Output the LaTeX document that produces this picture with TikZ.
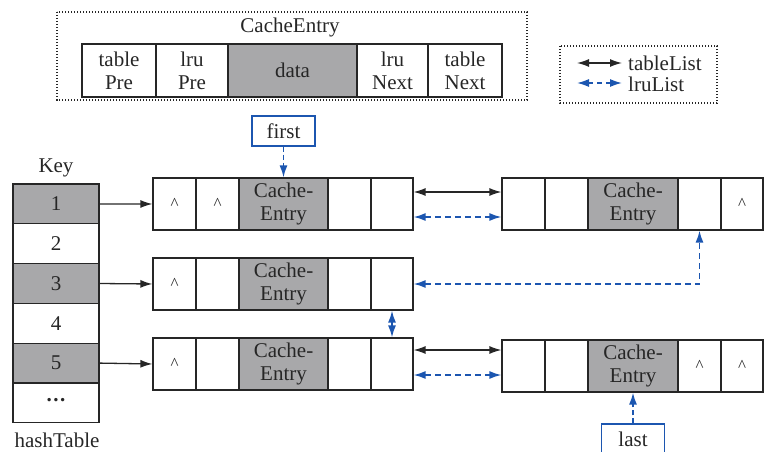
\documentclass[tikz,border=0pt]{standalone}
\usepackage{fontspec}
\setmainfont{Liberation Serif}
\usetikzlibrary{arrows.meta}
\definecolor{cellgray}{RGB}{168,168,170}
\definecolor{lnk}{RGB}{28,86,176}
\definecolor{ink}{RGB}{38,38,38}
\newcommand\nilmark{\raisebox{-0.9ex}{\fontsize{17}{17}\selectfont\textasciicircum}}
\begin{document}
\begin{tikzpicture}[x=1pt,y=-1pt,
  every node/.style={font=\fontsize{21}{23}\selectfont, text=ink},
  cell/.style={draw=ink, line width=1.2pt, minimum height=52pt, inner sep=0pt, align=center},
  gcell/.style={cell, fill=cellgray},
  wa/.style={minimum width=43pt},
  wb/.style={minimum width=89pt},
  wc/.style={minimum width=42pt},
  hcell/.style={draw=ink, line width=1.2pt, minimum width=86pt, minimum height=39.8pt, inner sep=0pt},
  tcell/.style={draw=ink, line width=1.2pt, minimum height=53pt, inner sep=0pt, align=center},
  dotbox/.style={draw=ink, line width=1.1pt, dash pattern=on 1.3pt off 1.7pt},
  ptr/.style={draw=lnk, line width=1.4pt, minimum width=63pt, minimum height=30pt, inner sep=0pt},
  tip/.tip={Latex[length=12pt,width=8pt]},
  tlink/.style={draw=ink, line width=1.3pt, tip-tip},
  llink/.style={draw=lnk, line width=1.6pt, dash pattern=on 6pt off 4pt, tip-tip},
  hlink/.style={draw=ink, line width=1.3pt, -tip},
  plink/.style={draw=lnk, line width=1.6pt, dash pattern=on 5pt off 3pt, -tip}
]
\useasboundingbox (0,0) rectangle (768,452);

% CacheEntry structure
\draw[dotbox] (57,12) rectangle (527,100);
\node (cetitle) at (290,27) {CacheEntry};
\node[tcell, minimum width=74pt] (tp) at (119,70.5) {table\\Pre};
\node[tcell, minimum width=72pt] (lp) at (192,70.5) {lru\\Pre};
\node[tcell, minimum width=129pt, fill=cellgray] (dt) at (292.5,70.5) {data};
\node[tcell, minimum width=71pt] (ln) at (392.5,70.5) {lru\\Next};
\node[tcell, minimum width=74pt] (tn) at (465,70.5) {table\\Next};

% legend
\draw[dotbox] (560,46) rectangle (717,103);
\coordinate (lg1a) at (577,63);
\coordinate (lg1b) at (622,63);
\coordinate (lg2a) at (577,83);
\coordinate (lg2b) at (622,83);
\draw[tlink] (lg1a) -- (lg1b);
\draw[llink, dash pattern=on 5pt off 4pt] (lg2a) -- (lg2b);
\node[anchor=west, inner sep=0pt] (lgt1) at (628,63) {tableList};
\node[anchor=west, inner sep=0pt] (lgt2) at (628,84) {lruList};

% hash table
\node (key) at (56,168) {Key};
\node[hcell, fill=cellgray] (h1) at (56,203.9) {1};
\node[hcell] (h2) at (56,243.7) {2};
\node[hcell, fill=cellgray] (h3) at (56,283.5) {3};
\node[hcell] (h4) at (56,323.3) {4};
\node[hcell, fill=cellgray] (h5) at (56,363.1) {5};
\node[hcell] (h6) at (56,402.9) {\raisebox{0.25em}{\textbf{.\kern1.5pt.\kern1.5pt.}}};
\node (htab) at (57,440) {hashTable};

% row 1 left
\node[cell, wa] (a1) at (174.5,204) {\nilmark};
\node[cell, wa] (a2) at (217.5,204) {\nilmark};
\node[gcell, wb] (a3) at (283.5,204) {Cache-\\Entry};
\node[cell, wa] (a4) at (349.5,204) {};
\node[cell, wc] (a5) at (392,204) {};
% row 2 left
\node[cell, wa] (b1) at (174.5,284) {\nilmark};
\node[cell, wa] (b2) at (217.5,284) {};
\node[gcell, wb] (b3) at (283.5,284) {Cache-\\Entry};
\node[cell, wa] (b4) at (349.5,284) {};
\node[cell, wc] (b5) at (392,284) {};
% row 3 left
\node[cell, wa] (c1) at (174.5,364) {\nilmark};
\node[cell, wa] (c2) at (217.5,364) {};
\node[gcell, wb] (c3) at (283.5,364) {Cache-\\Entry};
\node[cell, wa] (c4) at (349.5,364) {};
\node[cell, wc] (c5) at (392,364) {};
% row 1 right
\node[cell, wa] (d1) at (523.5,204) {};
\node[cell, wa] (d2) at (566.5,204) {};
\node[gcell, minimum width=90pt] (d3) at (633,204) {Cache-\\Entry};
\node[cell, wa] (d4) at (699.5,204) {};
\node[cell, wc] (d5) at (742,204) {\nilmark};
% row 3 right
\node[cell, wa] (e1) at (523.5,366) {};
\node[cell, wa] (e2) at (566.5,366) {};
\node[gcell, minimum width=90pt] (e3) at (633,366) {Cache-\\Entry};
\node[cell, wa] (e4) at (699.5,366) {\nilmark};
\node[cell, wc] (e5) at (742,366) {\nilmark};

% first / last
\node[ptr] (first) at (283.5,131) {first};
\node[ptr] (last) at (633,439) {last};

% hash links
\draw[hlink] (h1.east) -- (a1.west);
\draw[hlink] (h3.east) -- (b1.west);
\draw[hlink] (h5.east) -- (c1.west);

% table list links
\draw[tlink] ([yshift=12pt]a5.east) -- ([yshift=12pt]a5.east -| d1.west);
\draw[tlink] ([yshift=14pt]c5.east) -- ([yshift=14pt]c5.east -| e1.west);

% lru list links
\draw[llink] ([yshift=-13pt]a5.east) -- ([yshift=-13pt]a5.east -| d1.west);
\draw[llink] ([yshift=-11pt]c5.east) -- ([yshift=-11pt]c5.east -| e1.west);
\draw[llink] (b5.east) -- (b5.east -| d4.south) -- (d4.south);
\draw[llink] (b5.south) -- (c5.north);
\draw[plink] (first.south) -- (a3.north);
\draw[plink] (last.north) -- (e3.south);
\end{tikzpicture}
\end{document}
